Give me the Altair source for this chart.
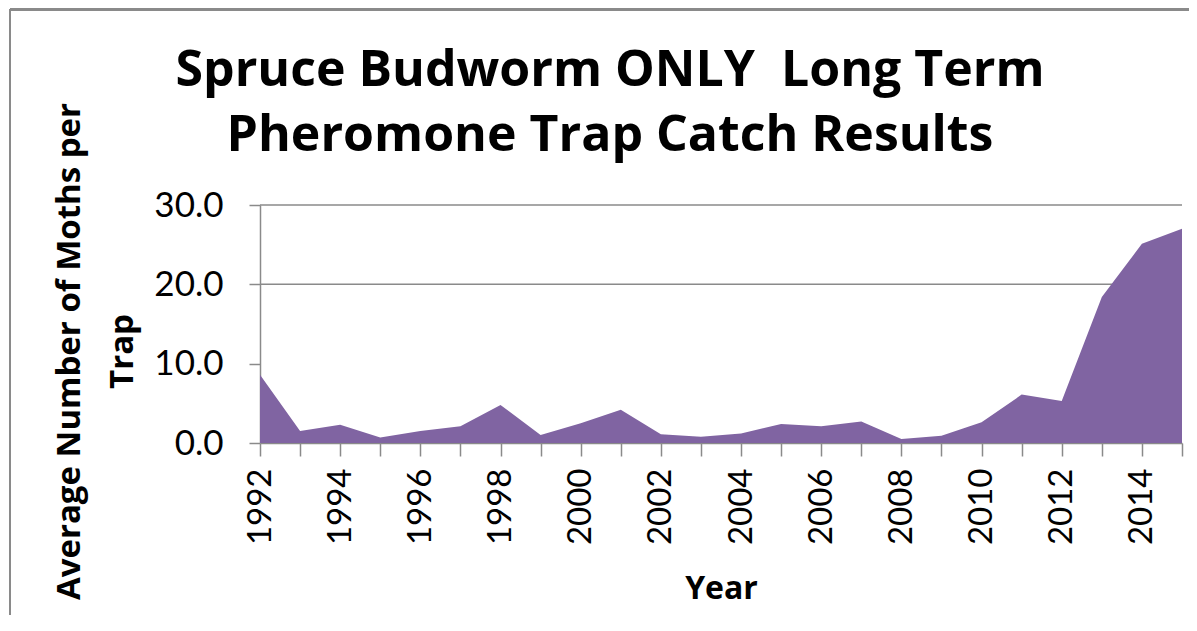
import altair as alt
import pandas as pd

years = list(range(1992, 2016))
moths = [8.6, 1.5, 2.3, 0.7, 1.5, 2.1, 4.8, 1.0, 2.5, 4.2, 1.1, 0.8,
         1.2, 2.4, 2.1, 2.7, 0.5, 0.9, 2.6, 6.1, 5.3, 18.4, 25.1, 27.0]
grid_values = [20, 30]
y_ticks = [0, 10, 20, 30]

title_lines = ["Spruce Budworm ONLY\u00a0 Long Term", "Pheromone Trap Catch Results"]
y_title = ["Average Number of Moths per", "Trap"]
x_title = "Year"

df = pd.DataFrame({"Year": years, "Moths": moths})
grid_df = pd.DataFrame({"Moths": grid_values})

FONT = "Lato"
TFONT = "Open Sans"
GRAY = "#8a8a8a"
W, H = 922, 238

xscale = alt.Scale(domain=[1992, 2015], nice=False, zero=False)
yscale = alt.Scale(domain=[0, 30], nice=False)

y_axis = alt.Axis(
    values=y_ticks,
    format=".1f",
    labelFont=FONT,
    labelFontSize=35,
    labelColor="black",
    labelPadding=26,
    tickSize=11,
    tickColor=GRAY,
    tickWidth=1.5,
    domainColor=GRAY,
    domainWidth=1.5,
    grid=False,
    title=y_title,
    titleFont=TFONT,
    titleFontSize=33,
    titleFontWeight="bold",
    titleColor="black",
    titleAngle=270,
    titleAlign="center",
    titleBaseline="top",
    titleLineHeight=53,
    titleX=-207,
    titleY=146,
)

border_top = alt.Chart(df).mark_rule(color=GRAY, strokeWidth=2).encode(
    x=alt.value(-250), x2=alt.value(940), y=alt.value(-195.5)
)
border_left = alt.Chart(df).mark_rule(color=GRAY, strokeWidth=2).encode(
    x=alt.value(-250), y=alt.value(-196), y2=alt.value(430)
)

grid = alt.Chart(grid_df).mark_rule(color=GRAY, strokeWidth=1.5).encode(
    y=alt.Y("Moths:Q", scale=yscale, axis=y_axis)
)

area = alt.Chart(df).mark_area(color="#8064A2", opacity=1).encode(
    x=alt.X(
        "Year:Q",
        scale=xscale,
        axis=alt.Axis(
            values=years,
            format="d",
            labelExpr="datum.value % 2 == 0 ? datum.label : ''",
            labelAngle=270,
            labelAlign="right",
            labelBaseline="middle",
            labelFont=FONT,
            labelFontSize=33,
            labelColor="black",
            labelPadding=12,
            labelOverlap=False,
            labelFlush=False,
            tickSize=13,
            tickColor=GRAY,
            tickWidth=1.5,
            domainColor=GRAY,
            domainWidth=1.5,
            grid=False,
            title=x_title,
            titleFont=TFONT,
            titleFontSize=32,
            titleFontWeight="bold",
            titleColor="black",
            titleBaseline="alphabetic",
            titleY=155,
        ),
    ),
    y=alt.Y("Moths:Q", scale=yscale, axis=y_axis),
)

chart = alt.layer(border_top, border_left, grid, area).properties(
    width=W,
    height=H,
    autosize="none",
    padding={"left": 252, "top": 197, "right": 7, "bottom": 172},
    title=alt.TitleParams(
        text=title_lines,
        font=TFONT,
        fontSize=50,
        fontWeight="bold",
        color="black",
        lineHeight=65,
        anchor="middle",
        frame="group",
        dx=-111,
        dy=203,
        offset=0,
        baseline="bottom",
    ),
).configure_view(stroke=None)

chart.save("out.html", embed_options={"renderer": "svg", "actions": False})
